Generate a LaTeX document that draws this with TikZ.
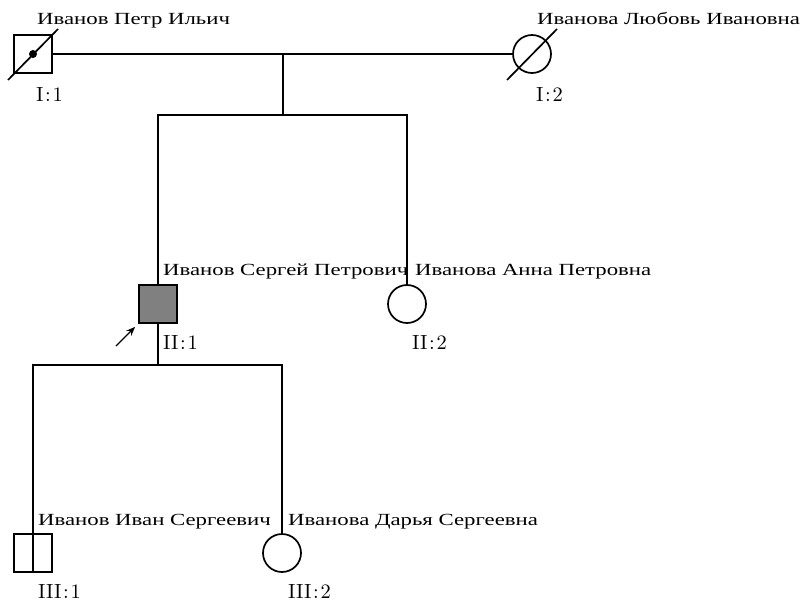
\documentclass[tikz,border=0pt]{standalone}
\usepackage{fontspec}
\newfontfamily\cyr[FakeStretch=1.34]{Liberation Serif}
\newfontfamily\idfont{lmroman10-regular.otf}
\usetikzlibrary{arrows.meta}
\begin{document}
\begin{tikzpicture}[x=1pt,y=-1pt,
  male/.style={draw, rectangle, minimum size=38pt, inner sep=0pt, line width=1.7pt},
  female/.style={draw, circle, minimum size=38pt, inner sep=0pt, line width=1.7pt},
  conn/.style={line width=1.7pt},
  namelbl/.style={anchor=base west, inner sep=0pt, font=\cyr\fontsize{17}{20}\selectfont},
  idlbl/.style={anchor=base west, inner sep=0pt, font=\idfont\fontsize{20.5}{24}\selectfont}]
\useasboundingbox (0,0) rectangle (801,602);
% generation I
\node[male] (I1) at (33,54) {};
\node[female] (I2) at (532,54) {};
\draw[conn] ([shift={(-25,26)}]I1.center) -- ([shift={(25,-25)}]I1.center);
\fill (I1.center) circle (4pt);
\draw[conn] ([shift={(-25,26)}]I2.center) -- ([shift={(25,-25)}]I2.center);
\draw[conn] (I1) -- (I2);
\coordinate (m1) at (283,54);
\coordinate (s1) at (283,115);
% generation II
\node[male, fill=gray] (II1) at (158,304) {};
\node[female] (II2) at (407,304) {};
\draw[conn] (m1) -- (s1);
\draw[conn] (II1.north) -- (II1.north |- s1) -- (II2.north |- s1) -- (II2.north);
\coordinate (s2) at (158,365);
% generation III
\node[male] (III1) at (33,553) {};
\node[female] (III2) at (282,553) {};
\draw[conn] (II1.south) -- (s2);
\draw[conn] (III1.south) -- (III1.north |- s2) -- (III2.north |- s2) -- (III2.north);
% proband arrow
\coordinate (arr) at (116,346);
\draw[line width=1.4pt, -{Stealth[length=9pt,width=7pt]}] (arr) -- ([shift={(-3,3)}]II1.south west);
% names
\node[namelbl] (nI1) at (37,25) {Иванов Петр Ильич};
\node[namelbl] (nI2) at (537,25) {Иванова Любовь Ивановна};
\node[namelbl] (nII1) at (163,275) {Иванов Сергей Петрович};
\node[namelbl] (nII2) at (415,275) {Иванова Анна Петровна};
\node[namelbl] (nIII1) at (38,525) {Иванов Иван Сергеевич};
\node[namelbl] (nIII2) at (288,525) {Иванова Дарья Сергеевна};
% ids
\node[idlbl] (iI1) at (36,101) {I\kern0.08em:\kern0.08em1};
\node[idlbl] (iI2) at (536,101) {I\kern0.08em:\kern0.08em2};
\node[idlbl] (iII1) at (163,349) {II\kern0.08em:\kern0.08em1};
\node[idlbl] (iII2) at (412,349) {II\kern0.08em:\kern0.08em2};
\node[idlbl] (iIII1) at (38,598) {III\kern0.08em:\kern0.08em1};
\node[idlbl] (iIII2) at (288,598) {III\kern0.08em:\kern0.08em2};
\end{tikzpicture}
\end{document}
